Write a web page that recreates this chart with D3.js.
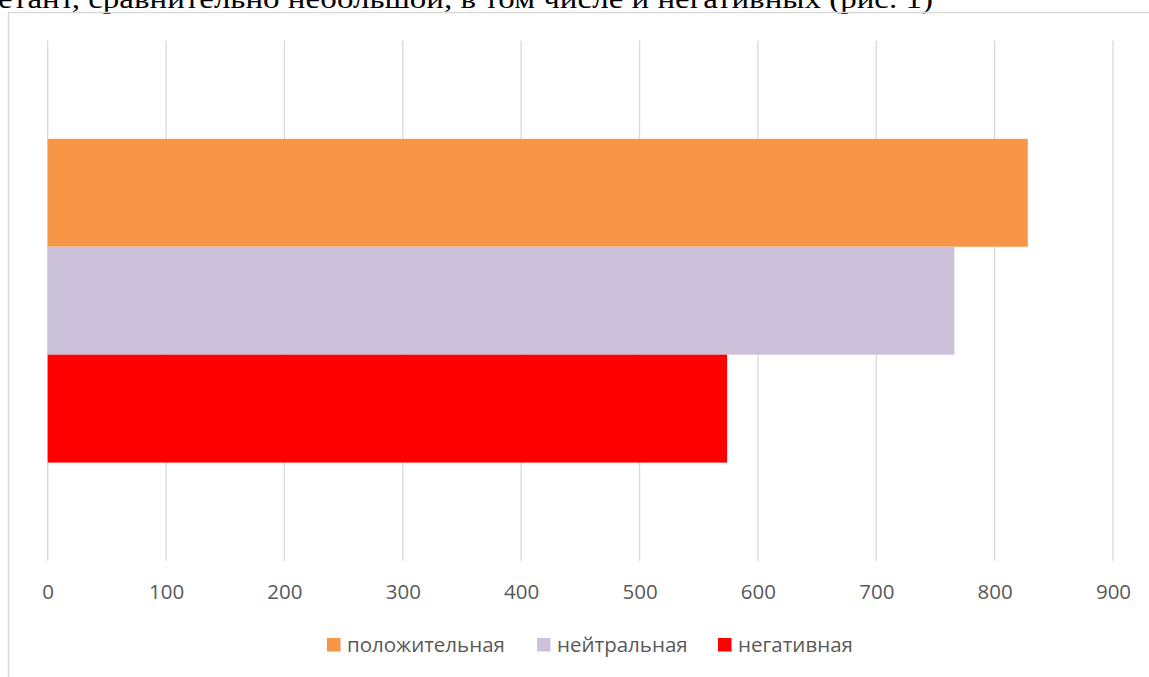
<!DOCTYPE html>
<html>
<head>
<meta charset="utf-8">
<script src="https://cdn.jsdelivr.net/npm/d3@7"></script>
<style>
body { margin: 0; background: #fff; overflow: hidden; }
</style>
</head>
<body>
<script>
// data
var categories = ["Тональность"];
var seriesNames = ["положительная", "нейтральная", "негативная"];
var seriesValues = [828, 766, 574];
var seriesColors = ["#F79646", "#CCC1DA", "#FF0000"];
var tickValues = [0, 100, 200, 300, 400, 500, 600, 700, 800, 900];

var width = 1149, height = 677;
var plot = {left: 47.7, right: 1113, top: 40.7, bottom: 560.7};

var svg = d3.select("body").append("svg")
    .attr("width", width)
    .attr("height", height);

// cut-off line of the document text above the chart
svg.append("text")
    .attr("x", -2)
    .attr("y", 7.5)
    .attr("font-family", "Liberation Serif, serif")
    .attr("font-size", 28)
    .attr("fill", "#000")
    .attr("textLength", 935)
    .attr("lengthAdjust", "spacingAndGlyphs")
    .text("етант, сравнительно небольшой, в том числе и негативных (рис. 1)");

// chart frame
svg.append("path")
    .attr("d", "M8.5," + height + " V12.5 H" + (width + 2))
    .attr("fill", "none")
    .attr("stroke", "#d9d9d9")
    .attr("stroke-width", 1.5);

var x = d3.scaleLinear().domain([0, 900]).range([plot.left, plot.right]);

var y0 = d3.scaleBand().domain(categories)
    .range([plot.top, plot.bottom])
    .paddingInner(0).paddingOuter(0.303);

var y1 = d3.scaleBand().domain(seriesNames)
    .range([0, y0.bandwidth()]).padding(0);

var color = d3.scaleOrdinal().domain(seriesNames).range(seriesColors);

// gridlines
svg.append("g").selectAll("line")
    .data(tickValues)
    .join("line")
    .attr("x1", function(d) { return x(d); })
    .attr("x2", function(d) { return x(d); })
    .attr("y1", plot.top)
    .attr("y2", plot.bottom)
    .attr("stroke", "#d9d9d9")
    .attr("stroke-width", 1.3);

// bars
var rows = seriesNames.map(function(s, i) { return {name: s, value: seriesValues[i]}; });
svg.append("g")
    .attr("transform", "translate(0," + y0(categories[0]) + ")")
    .selectAll("rect")
    .data(rows)
    .join("rect")
    .attr("x", x(0))
    .attr("y", function(d) { return y1(d.name); })
    .attr("width", function(d) { return x(d.value) - x(0); })
    .attr("height", y1.bandwidth())
    .attr("fill", function(d) { return color(d.name); });

// axis labels
var axis = d3.axisBottom(x).tickValues(tickValues).tickSize(0).tickPadding(0);
var gx = svg.append("g")
    .attr("transform", "translate(0,584)")
    .call(axis);
gx.select(".domain").remove();
gx.selectAll("text")
    .attr("dy", "0.71em")
    .attr("font-family", "Open Sans, sans-serif")
    .attr("font-size", 20.5)
    .attr("fill", "#595959");

// legend
var legendX = [327, 537, 718];
var legend = svg.append("g").selectAll("g")
    .data(seriesNames)
    .join("g")
    .attr("transform", function(d, i) { return "translate(" + legendX[i] + ",638)"; });
legend.append("rect")
    .attr("width", 13.5)
    .attr("height", 13.5)
    .attr("fill", function(d) { return color(d); });
legend.append("text")
    .attr("x", 20)
    .attr("y", 7)
    .attr("dy", "0.35em")
    .attr("font-family", "Open Sans, sans-serif")
    .attr("font-size", 20.5)
    .attr("fill", "#595959")
    .text(function(d) { return d; });
</script>
</body>
</html>
